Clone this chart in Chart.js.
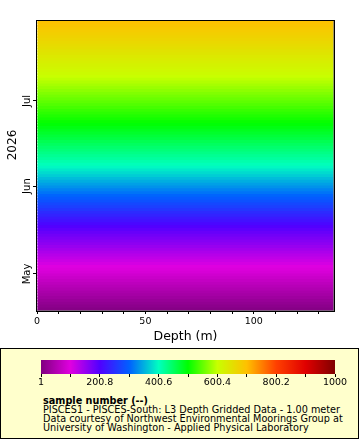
<!DOCTYPE html>
<html>
<head>
<meta charset="utf-8">
<script src="https://cdn.jsdelivr.net/npm/chart.js@4.4.1/dist/chart.umd.min.js"></script>
<style>
  body { margin: 0; width: 360px; height: 440px; background: #fff; position: relative; overflow: hidden; font-family: "DejaVu Sans"; }
  #main { position: absolute; left: 0; top: 0; width: 360px; height: 348px; }
  #legendBox { position: absolute; left: 0; top: 348px; width: 359px; height: 91px; box-sizing: border-box; border: 1px solid #000; background: #ffffcc; }
  #barWrap { position: absolute; left: 0; top: 355px; width: 360px; height: 40px; }
  #legendText { position: absolute; left: 43px; top: 396px; font-size: 9.7px; line-height: 9px; color: #000; white-space: nowrap; }
</style>
</head>
<body>
<div id="main"><canvas id="heat"></canvas></div>
<div id="legendBox"></div>
<div id="barWrap"><canvas id="bar"></canvas></div>
<div id="legendText">
  <b>sample number (--)</b><br>
  PISCES1 - PISCES-South: L3 Depth Gridded Data - 1.00 meter<br>
  Data courtesy of Northwest Environmental Moorings Group at<br>
  University of Washington - Applied Physical Laboratory
</div>
<script>
// time rows (day of year 2026) and the sample number
const sampleDay = [107, 108, 109, 110, 111, 112, 113, 114, 115, 116, 117, 118, 119, 120,
  121, 122, 123, 124, 125, 126, 127, 128, 129, 130, 131, 132, 133, 134, 135, 136, 137, 138,
  139, 140, 141, 142, 143, 144, 145, 146, 147, 148, 149, 150, 151, 152, 153, 154, 155, 156,
  157, 158, 159, 160, 161, 162, 163, 164, 165, 166, 167, 168, 169, 170, 171, 172, 173, 174,
  175, 176, 177, 178, 179, 180, 181, 182, 183, 184, 185, 186, 187, 188, 189, 190, 191, 192,
  193, 194, 195, 196, 197, 198, 199, 200, 201, 202, 203, 204, 205, 206, 207, 208, 209, 210, 211];
const sampleNumber = [1, 1, 7, 14, 20, 26, 33, 39, 45, 52, 58, 64, 71, 77,
  83, 90, 96, 102, 109, 116, 123, 130, 137, 144, 151, 158, 164, 171, 178, 185, 192, 199,
  208, 217, 227, 237, 246, 256, 266, 275, 285, 295, 304, 313, 322, 332, 341, 350, 359, 369,
  378, 387, 396, 404, 411, 418, 424, 431, 438, 444, 451, 458, 465, 471, 478, 485, 491, 498,
  504, 510, 516, 522, 528, 535, 541, 547, 553, 559, 565, 571, 577, 583, 589, 595, 601, 606,
  611, 616, 621, 626, 631, 636, 641, 646, 652, 657, 662, 667, 672, 677, 682, 687, 692, 697, 702];
const depthRange = [0, 137];

const depthTicks = [0, 10, 20, 30, 40, 50, 60, 70, 80, 90, 100, 110, 120, 130];
const monthTicks = [121, 152, 182];
const monthLabels = ['May', 'Jun', 'Jul'];
const yearLabel = '2026';

const colorbarTicks = [1, 100.9, 200.8, 300.7, 400.6, 500.5, 600.4, 700.3, 800.2, 900.1, 1000];
const colorbarLabels = ['1', '', '200.8', '', '400.6', '', '600.4', '', '800.2', '', '1000'];
const colorRange = [1, 1000];

const palette = [[128,0,128],[224,0,224],[80,0,255],[0,96,255],[0,255,192],[0,255,0],
  [200,255,0],[255,192,0],[255,64,0],[224,0,0],[128,0,0]];

function colorFor(v) {
  var f = (v - colorRange[0]) / (colorRange[1] - colorRange[0]);
  f = Math.max(0, Math.min(1, f)) * (palette.length - 1);
  var i = Math.min(Math.floor(f), palette.length - 2), t = f - i;
  var a = palette[i], b = palette[i + 1];
  return 'rgb(' + [0, 1, 2].map(k => Math.round(a[k] + (b[k] - a[k]) * t)).join(',') + ')';
}

Chart.defaults.font.family = '"DejaVu Sans"';
Chart.defaults.color = '#000';

const framePlugin = {
  id: 'frame',
  afterDraw(chart) {
    const ctx = chart.ctx, a = chart.chartArea;
    ctx.save();
    ctx.strokeStyle = 'rgba(128,128,128,0.7)';
    ctx.lineWidth = 1;
    ctx.beginPath();
    ctx.moveTo(a.left, a.bottom - 0.5); ctx.lineTo(a.right, a.bottom - 0.5);
    ctx.moveTo(a.right - 0.5, a.top); ctx.lineTo(a.right - 0.5, a.bottom);
    ctx.stroke();
    ctx.strokeStyle = '#000';
    ctx.strokeRect(a.left - 0.5, a.top - 0.5, a.right - a.left + 1, a.bottom - a.top + 1);
    ctx.translate(13, 145);
    ctx.rotate(-Math.PI / 2);
    ctx.font = '12px "DejaVu Sans"';
    ctx.textAlign = 'center';
    ctx.textBaseline = 'middle';
    ctx.fillStyle = '#000';
    ctx.fillText(yearLabel, 0, 0);
    ctx.restore();
  }
};

new Chart(document.getElementById('heat'), {
  type: 'bar',
  data: {
    datasets: [{
      data: sampleDay.map((d, i) => ({ x: depthRange, y: d })),
      backgroundColor: sampleNumber.map(colorFor),
      barPercentage: 1.6,
      categoryPercentage: 1,
      clip: 0
    }]
  },
  options: {
    indexAxis: 'y',
    responsive: true,
    maintainAspectRatio: false,
    animation: false,
    events: [],
    layout: { padding: { left: 0, top: 21, right: 26, bottom: 0 } },
    plugins: { legend: { display: false }, tooltip: { enabled: false } },
    scales: {
      x: {
        type: 'linear',
        min: depthRange[0],
        max: depthRange[1],
        afterBuildTicks: s => { s.ticks = depthTicks.map(v => ({ value: v })); },
        afterFit: s => { s.height = 37; },
        ticks: {
          autoSkip: false, maxRotation: 0, padding: 2,
          font: { size: 9.5 },
          callback: v => (v % 50 === 0 ? String(v) : '')
        },
        grid: { drawOnChartArea: false, tickLength: 3, color: '#000' },
        border: { display: false },
        title: { display: true, text: 'Depth (m)', font: { size: 12.5 }, padding: { top: 0, bottom: 3.5 } }
      },
      y: {
        type: 'linear',
        offset: false,
        min: 107.95,
        max: 210.2,
        afterBuildTicks: s => { s.ticks = monthTicks.map(v => ({ value: v })); },
        afterFit: s => { s.width = 37; },
        ticks: {
          autoSkip: false, minRotation: 90, maxRotation: 90,
          crossAlign: 'center', padding: -5,
          font: { size: 10 },
          callback: (v, i) => monthLabels[i]
        },
        grid: { offset: false, drawOnChartArea: false, tickLength: 4, color: '#000' },
        border: { display: false }
      }
    }
  },
  plugins: [framePlugin]
});

new Chart(document.getElementById('bar'), {
  type: 'bar',
  data: {
    labels: ['scale'],
    datasets: [{
      data: [colorRange],
      barPercentage: 1,
      categoryPercentage: 1,
      backgroundColor: ctx => {
        const c = ctx.chart;
        if (!c.chartArea) return null;
        const sx = c.scales.x;
        const g = c.ctx.createLinearGradient(sx.getPixelForValue(colorRange[0]), 0, sx.getPixelForValue(colorRange[1]), 0);
        palette.forEach((p, i) => g.addColorStop(i / (palette.length - 1), 'rgb(' + p.join(',') + ')'));
        return g;
      }
    }]
  },
  options: {
    indexAxis: 'y',
    responsive: true,
    maintainAspectRatio: false,
    animation: false,
    events: [],
    layout: { padding: { left: 41, top: 5, right: 25, bottom: 0 } },
    plugins: { legend: { display: false }, tooltip: { enabled: false } },
    scales: {
      x: {
        type: 'linear',
        min: colorRange[0],
        max: colorRange[1],
        afterBuildTicks: s => { s.ticks = colorbarTicks.map(v => ({ value: v })); },
        afterFit: s => { s.height = 21; },
        ticks: {
          autoSkip: false, maxRotation: 0, padding: 0,
          font: { size: 9.5 },
          callback: (v, i) => colorbarLabels[i]
        },
        grid: { drawOnChartArea: false, tickLength: 3, color: '#000' },
        border: { display: false }
      },
      y: { display: false }
    }
  }
});
</script>
</body>
</html>
